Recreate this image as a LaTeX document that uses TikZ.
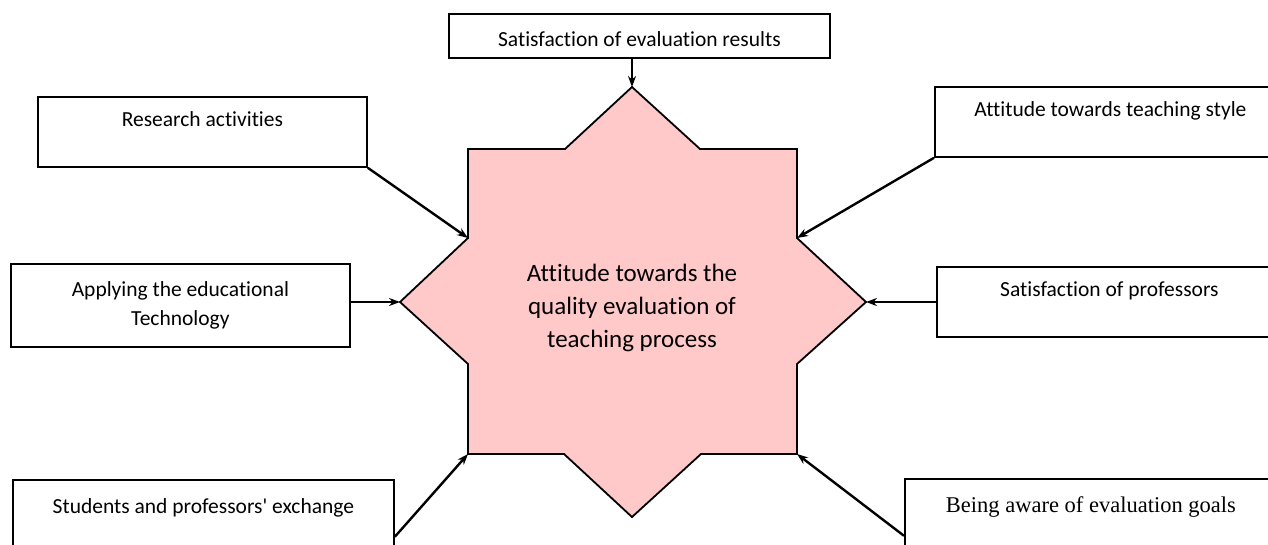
\documentclass[tikz,border=0pt]{standalone}
\usepackage{fontspec}
\setmainfont{Carlito}[Ligatures=CommonOff]
\newfontfamily\timesfont{Liberation Serif}
\usetikzlibrary{arrows.meta,calc}
\definecolor{starpink}{RGB}{255,201,201}
\tikzset{
    box/.style =    {rectangle,
                    fill=white,
                    draw=black,
                    text=black,
                    line width=1.8pt,
                    inner sep=0pt,
                    anchor=north west,
                    font=\fontsize{21.5}{29}\selectfont},
    hightext/.style={text height=30pt,
                    text depth=40pt},
    lowtext/.style ={text height=34pt,
                    text depth=36pt},
    star/.style =   {fill=starpink,
                    draw=black,
                    line width=1.8pt},
    -,
    >={Stealth[length=11pt,width=8pt]},
    shorten >= 0pt,
    shorten <= 0pt}
\begin{document}
\begin{tikzpicture}[x=1pt,y=-1pt]
                \useasboundingbox (0,0) rectangle (1268,544);
                \clip (0,0) rectangle (1268,544);
                \coordinate (t)  at (632,87);
                \coordinate (b)  at (632,517);
                \coordinate (l)  at (400,302);
                \coordinate (r)  at (866,302);
                \coordinate (ul) at (468,238);
                \coordinate (ur) at (797,238);
                \coordinate (dl) at (468,454);
                \coordinate (dr) at (797,454);
                \draw[star] (t) -- (700,149) -- (797,149) -- (ur) -- (r) -- (797,364) -- (dr)
                    -- (701,454) -- (b) -- (564,454) -- (dl) -- (468,364) -- (l) -- (ul)
                    -- (468,149) -- (565,149) -- cycle;
                \node[align=center,font=\fontsize{25}{33}\selectfont] (C) at (632,308)
                    {Attitude towards the\\quality evaluation of\\teaching process};
                \node[box,minimum width=381pt,text height=33pt,text depth=11pt] (E) at (448,13)  {Satisfaction of evaluation results};
                \node[box,hightext,minimum width=329pt] (R) at (37,96)   {Research activities};
                \node[box,align=center,minimum width=339pt,minimum height=83pt] (T) at (10,263)
                    {Applying the educational\\Technology};
                \node[box,lowtext,minimum width=381pt]  (X) at (12,479)  {Students and professors\textquotesingle\ exchange};
                \node[box,hightext,minimum width=351pt] (S) at (934,86)  {Attitude towards teaching style};
                \node[box,hightext,minimum width=345pt] (P) at (936,266) {Satisfaction of professors};
                \node[box,lowtext,minimum width=372pt,font=\timesfont\fontsize{22.5}{27}\selectfont] (G) at (904,478)
                    {Being aware of evaluation goals};
                \path [line width=2.4pt,->] (E.south -| t)              edge []     (t)
                                            (R.south east)              edge []     (ul)
                                            (T.east |- l)               edge []     (l)
                                            ([yshift=14pt]X.south east) edge []     (dl)
                                            (S.south west)              edge []     (ur)
                                            (P.west |- r)               edge []     (r)
                                            ([yshift=14pt]G.south west) edge []     (dr);
        \end{tikzpicture}
\end{document}
